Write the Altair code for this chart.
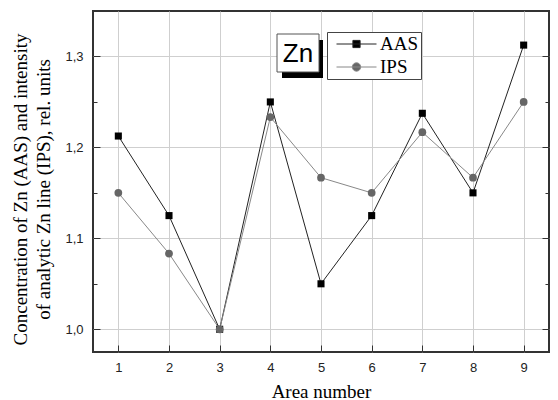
import altair as alt
import pandas as pd

areas = [1, 2, 3, 4, 5, 6, 7, 8, 9]
aas = [1.2125, 1.125, 1.0, 1.25, 1.05, 1.125, 1.2375, 1.15, 1.3125]
ips = [1.15, 1.0833, 1.0, 1.2333, 1.1667, 1.15, 1.2167, 1.1667, 1.25]
series_names = ["AAS", "IPS"]
y_major = [1.0, 1.1, 1.2, 1.3]
y_minor = [1.05, 1.15, 1.25]
x_ticks = areas

df = pd.DataFrame({
    "area": areas + areas,
    "value": aas + ips,
    "series": ["AAS"] * len(areas) + ["IPS"] * len(areas),
})

xscale = alt.Scale(domain=[0.5, 9.5], nice=False, zero=False)
yscale = alt.Scale(domain=[0.975, 1.35], nice=False, zero=False)
label_expr = "replace(format(datum.value, '.1f'), '.', ',')"

base = alt.Chart(df)

main_x = alt.X("area:Q", scale=xscale, axis=alt.Axis(
    orient="bottom", values=x_ticks, ticks=False, domain=False, grid=True,
    gridColor="#cfcfcf", gridWidth=1, labelFont="Liberation Sans", labelFontSize=13,
    labelColor="#222", labelPadding=9, title="Area number",
    titleFont="Liberation Serif", titleFontSize=19, titleFontWeight="normal",
    titleColor="black", titleY=45, titleBaseline="alphabetic"))
main_y = alt.Y("value:Q", scale=yscale, axis=alt.Axis(
    orient="left", values=y_major, ticks=False, domain=False, grid=True,
    gridColor="#cfcfcf", gridWidth=1, labelExpr=label_expr,
    labelFont="Liberation Sans", labelFontSize=13, labelColor="#222", labelPadding=10,
    title=["Concentration of Zn (AAS) and intensity", "of analytic Zn line (IPS), rel. units"],
    titleFont="Liberation Serif", titleFontSize=19, titleFontWeight="normal",
    titleColor="black", titleLineHeight=23, titleX=-63, titleY=178, titleAngle=270,
    titleAlign="center", titleBaseline="bottom"))

plain_x = alt.X("area:Q", scale=xscale, axis=None)
plain_y = alt.Y("value:Q", scale=yscale, axis=None)

line_aas = base.transform_filter(alt.datum.series == "AAS").mark_line(
    strokeWidth=1, color="#222222").encode(x=main_x, y=main_y)
line_ips = base.transform_filter(alt.datum.series == "IPS").mark_line(
    strokeWidth=1, color="#888888").encode(x=plain_x, y=plain_y)

squares = base.transform_filter(alt.datum.series == "AAS").mark_square(
    size=50, color="black", opacity=1).encode(x=plain_x, y=plain_y)
circles = base.transform_filter(alt.datum.series == "IPS").mark_circle(
    size=60, color="#666666", opacity=1).encode(x=plain_x, y=plain_y)

sq_path = "M-1,0H1M-0.18,-0.18H0.18V0.18H-0.18Z"
circ_path = "M-1,0H1M0.21,0A0.21,0.21,0,1,1,-0.21,0A0.21,0.21,0,1,1,0.21,0Z"

leg = alt.Legend(orient="none", legendX=234, legendY=21, title=None,
                 strokeColor="#444", fillColor="white", padding=2, symbolOffset=7,
                 symbolSize=1600, symbolStrokeWidth=1, symbolOpacity=1,
                 labelFont="Liberation Serif", labelFontSize=19, labelColor="black",
                 labelOffset=3, rowPadding=3, clipHeight=20, direction="vertical")

legend_layer = base.transform_filter("false").mark_point().encode(
    x=plain_x, y=plain_y,
    shape=alt.Shape("series:N", scale=alt.Scale(domain=series_names, range=[sq_path, circ_path]), legend=leg),
    fill=alt.Fill("series:N", scale=alt.Scale(domain=series_names, range=["#000000", "#666666"]), legend=leg),
    stroke=alt.Stroke("series:N", scale=alt.Scale(domain=series_names, range=["#222222", "#888888"]), legend=leg),
)


def tick_layer(channel, orient, values, size):
    ax = alt.Axis(orient=orient, values=values, labels=False, domain=False, grid=False,
                  ticks=True, tickSize=size, offset=-size, title=None,
                  tickColor="#333", tickWidth=1)
    if channel == "y":
        enc = dict(x=plain_x, y=alt.Y("value:Q", scale=yscale, axis=ax))
    else:
        enc = dict(x=alt.X("area:Q", scale=xscale, axis=ax), y=plain_y)
    return base.transform_filter("false").mark_point().encode(**enc)


ticks = [
    tick_layer("y", "left", y_major, 7),
    tick_layer("y", "left", y_minor, 4),
    tick_layer("y", "right", y_major, 7),
    tick_layer("y", "right", y_minor, 4),
    tick_layer("x", "bottom", x_ticks, 7),
]

one = alt.Chart(pd.DataFrame({"k": [0]}))
shadow = one.mark_rect(color="black").encode(
    x=alt.value(189), x2=alt.value(230), y=alt.value(29), y2=alt.value(67))
box = one.mark_rect(fill="white", stroke="#555", strokeWidth=1).encode(
    x=alt.value(184), x2=alt.value(226), y=alt.value(23), y2=alt.value(61))
zn = one.mark_text(text="Zn", font="Liberation Sans", fontSize=26, align="center",
                   baseline="middle", color="black").encode(x=alt.value(205), y=alt.value(43))

chart = alt.layer(line_aas, line_ips, squares, circles, legend_layer, *ticks,
                  shadow, box, zn).resolve_axis(
    x="independent", y="independent"
).properties(
    width=456, height=341,
    padding={"left": 85, "top": 3, "right": 1, "bottom": 48},
    autosize=alt.AutoSizeParams(type="none"),
    background="white",
).configure_view(stroke="#333", strokeWidth=2)

chart.save("out.html", embed_options={"renderer": "svg", "actions": False})
